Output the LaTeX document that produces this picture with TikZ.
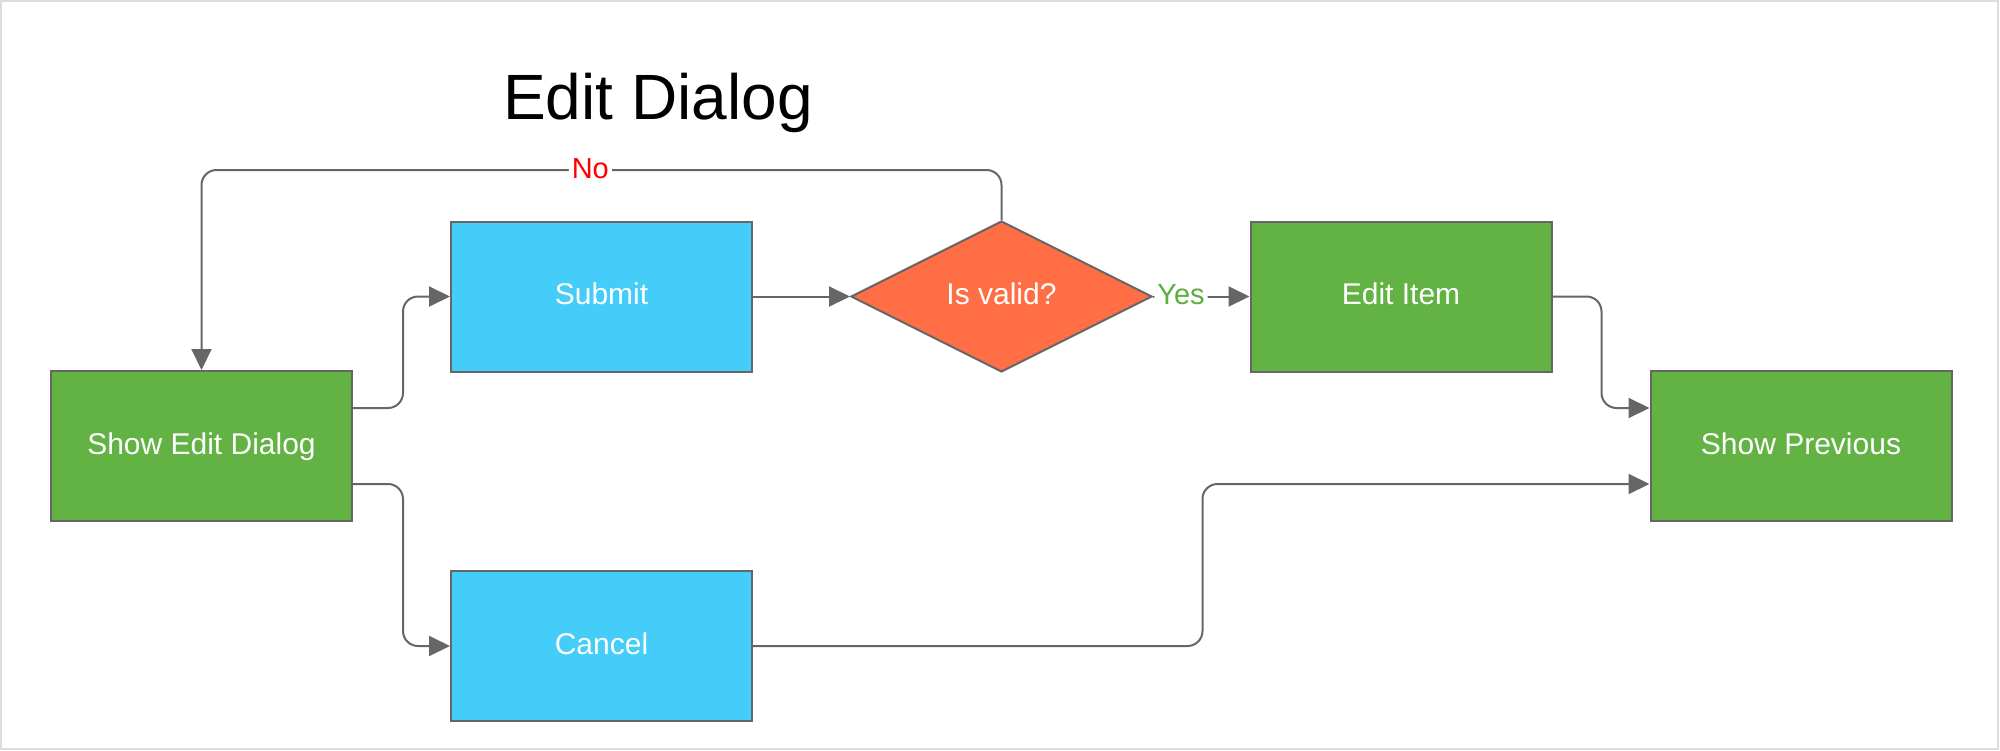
\documentclass[tikz,border=0pt]{standalone}
\usepackage{fontspec}
\setmainfont{Liberation Sans}
\usetikzlibrary{shapes.geometric,arrows.meta,calc}
\definecolor{boxgreen}{HTML}{62B244}
\definecolor{boxblue}{HTML}{43CDF8}
\definecolor{boxorange}{HTML}{FF6E44}
\definecolor{edgegray}{HTML}{666666}
\definecolor{framegray}{HTML}{DDDDDD}
\definecolor{yesgreen}{HTML}{5BAF3C}
\begin{document}
\begin{tikzpicture}[x=1pt,y=-1pt,
  box/.style={draw=edgegray, line width=2pt, minimum width=301pt, minimum height=150pt,
    inner sep=0pt, text=white, font=\fontsize{30}{34}\selectfont,
    text height=22pt, text depth=6pt},
  greenbox/.style={box, fill=boxgreen},
  bluebox/.style={box, fill=boxblue},
  decision/.style={diamond, draw=edgegray, line width=2pt, fill=boxorange, aspect=2,
    minimum width=301pt, minimum height=151pt, inner sep=0pt, text=white,
    font=\fontsize{30}{34}\selectfont, text height=22pt, text depth=6pt},
  conn/.style={draw=edgegray, line width=2pt, rounded corners=15pt,
    -{Triangle[length=21pt,width=20pt]}},
  lbl/.style={fill=white, inner sep=3pt, font=\fontsize{29}{33}\selectfont,
    text height=21pt, text depth=5pt},
  titlestyle/.style={font=\fontsize{64}{72}\selectfont, text=black, inner sep=0pt}
]
\useasboundingbox (0,0) rectangle (2000,750);
\draw[framegray, line width=2pt] (1,1) rectangle (1998,749);

\node[titlestyle, anchor=base] (title) at (658,119) {Edit Dialog};

\node[greenbox] (sed) at (201.5,446) {Show Edit Dialog};
\node[bluebox] (submit) at (601.5,296.5) {Submit};
\node[bluebox] (cancel) at (601.5,646) {Cancel};
\node[decision] (dia) at (1001.5,296.5) {Is valid?};
\node[greenbox] (ei) at (1401,296.5) {Edit Item};
\node[greenbox] (sp) at (1801,446) {Show Previous};

\coordinate (sedA) at ($(sed.north east)!0.25!(sed.south east)$);
\coordinate (sedB) at ($(sed.north east)!0.75!(sed.south east)$);
\coordinate (spA) at ($(sp.north west)!0.25!(sp.south west)$);
\coordinate (spB) at ($(sp.north west)!0.75!(sp.south west)$);

\draw[conn] (sedA) -- ++(50,0) |- (submit.west);
\draw[conn] (sedB) -- ++(50,0) |- (cancel.west);
\draw[conn] (submit.east) -- (dia.west);
\draw[conn] (dia.north) -- ++(0,-50) -| node[lbl, text=red, pos=0.257] (no) {No} (sed.north);
\draw[conn] (dia.east) -- node[lbl, text=yesgreen, pos=0.29] (yes) {Yes} (ei.west);
\draw[conn] (ei.east) -- ++(49,0) |- (spA);
\draw[conn] (cancel.east) -- ++(449.5,0) |- (spB);
\end{tikzpicture}
\end{document}
